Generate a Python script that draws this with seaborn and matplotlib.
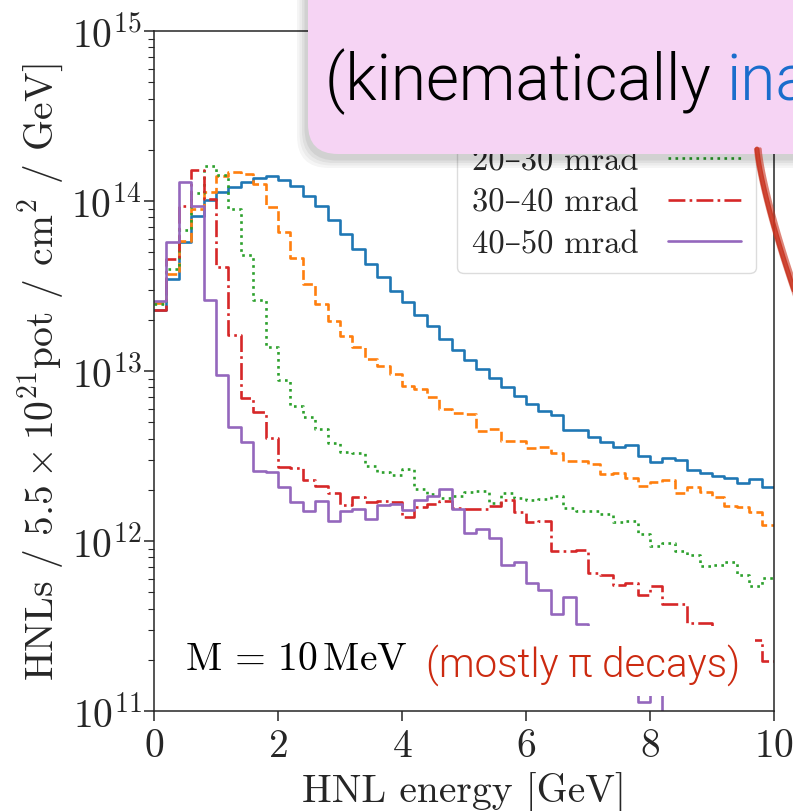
import numpy as np
import pandas as pd
import matplotlib
matplotlib.use("Agg")
import matplotlib.pyplot as plt
import seaborn as sns
from matplotlib.patches import FancyBboxPatch, Rectangle
from matplotlib.ticker import LogLocator, NullFormatter, FixedLocator

# ---- data: HNL flux per 0.2 GeV energy bin, in units of 1e12 ----
bin_edges = [round(0.2 * k, 1) for k in range(51)]

flux_0_10 = [22.9, 34.7, 57.5, 82.0, 101.9, 113.5, 120.2, 128.8, 136.1, 140.3,
             133.4, 122.5, 107.4, 92.9, 77.8, 64.0, 52.2, 42.6, 35.6, 29.7,
             25.5, 21.3, 18.5, 15.4, 13.3, 11.6, 10.3, 9.10, 8.02, 7.10,
             6.40, 5.85, 5.53, 4.52, 4.50, 4.07, 3.80, 3.56, 3.67, 3.15,
             2.93, 3.06, 3.01, 2.61, 2.51, 2.42, 2.35, 2.18, 2.32, 2.08]
flux_10_20 = [25.1, 37.2, 57.8, 89.7, 112.5, 141.0, 147.6, 144.2, 125.9, 92.3,
              65.8, 46.3, 32.4, 24.8, 19.8, 16.1, 13.8, 11.7, 10.7, 9.59,
              8.20, 7.83, 7.00, 5.97, 5.66, 5.60, 4.42, 4.56, 3.89, 3.89,
              3.52, 3.55, 3.30, 2.97, 2.97, 2.84, 2.48, 2.51, 2.34, 2.11,
              2.21, 2.28, 1.91, 2.07, 1.93, 1.81, 1.61, 1.58, 1.48, 1.24]
flux_20_30 = [24.8, 39.6, 67.9, 111.7, 160.0, 142.9, 90.2, 47.9, 26.1, 13.8,
              8.85, 6.25, 5.35, 4.56, 3.77, 3.35, 3.31, 2.77, 2.56, 2.44,
              2.65, 2.03, 1.89, 1.78, 1.84, 1.95, 1.98, 1.68, 1.91, 1.78,
              1.74, 1.77, 1.83, 1.57, 1.51, 1.51, 1.45, 1.29, 1.32, 1.10,
              0.933, 0.977, 0.871, 0.832, 0.716, 0.724, 0.755, 0.631, 0.546, 0.603]
flux_30_40 = [22.9, 45.7, 93.3, 153.0, 102.3, 40.7, 16.2, 6.92, 5.71, 4.02,
              2.74, 2.69, 2.29, 2.11, 1.91, 1.62, 1.82, 1.69, 1.71, 1.70,
              1.38, 1.58, 1.65, 1.72, 1.56, 1.55, 1.55, 1.60, 1.74, 1.49,
              1.30, 1.31, 0.877, 0.877, 0.887, 0.649, 0.634, 0.552, 0.569, 0.479,
              0.546, 0.425, 0.427, 0.331, 0.331, 0.282, 0.251, 0.229, 0.263, 0.197]
flux_40_50 = [25.7, 57.1, 128.8, 93.3, 26.3, 9.46, 4.68, 3.84, 2.59, 2.54,
              2.09, 1.70, 1.51, 1.72, 1.32, 1.51, 1.55, 1.35, 1.62, 1.66,
              1.53, 1.74, 1.83, 2.02, 1.54, 1.12, 1.18, 1.04, 0.723, 0.755,
              0.566, 0.518, 0.372, 0.467, 0.325, 0.282, 0.224, 0.251, 0.200, 0.113,
              0.224, 0.0, 0.0, 0.0, 0.0, 0.0, 0.0, 0.0, 0.0, 0.0]
flux_unit = 1e12

series_labels = ["0–10 mrad", "10–20 mrad", "20–30 mrad", "30–40 mrad", "40–50 mrad"]
series_values = [flux_0_10, flux_10_20, flux_20_30, flux_30_40, flux_40_50]
series_styles = ["-", "--", ":", "-.", "-"]

x_ticks = [0, 2, 4, 6, 8, 10]

# ---- style ----
sns.set_style("ticks")
plt.rcParams["font.family"] = ["cmr10", "DejaVu Serif"]
plt.rcParams["mathtext.fontset"] = "cm"
plt.rcParams["axes.formatter.use_mathtext"] = True
plt.rcParams["axes.unicode_minus"] = False

W, H = 793, 812
FS = 28.5
fig = plt.figure(figsize=(W / 100, H / 100), dpi=100)
ax = fig.add_axes([154 / W, 1 - 712 / H, 620 / W, 680 / H])

palette = sns.color_palette("tab10")
centers = [0.5 * (a + b) for a, b in zip(bin_edges[:-1], bin_edges[1:])]
for i, (lab, vals, ls) in enumerate(zip(series_labels, series_values, series_styles)):
    df = pd.DataFrame({"energy": centers, "flux": np.array(vals) * flux_unit})
    sns.histplot(data=df, x="energy", weights="flux", bins=bin_edges,
                 element="step", fill=False, color=palette[i], linestyle=ls,
                 linewidth=1.9, label=lab, ax=ax)

ax.set_yscale("log")
ax.set_xlim(0, 10)
ax.set_ylim(1e11, 1e15)
ax.xaxis.set_major_locator(FixedLocator(x_ticks))
ax.yaxis.set_major_locator(LogLocator(base=10, numticks=10))
ax.yaxis.set_minor_locator(LogLocator(base=10, subs=np.arange(2, 10), numticks=20))
ax.yaxis.set_minor_formatter(NullFormatter())
ax.tick_params(axis="both", which="major", labelsize=FS, length=7, width=1.1,
               direction="out")
ax.tick_params(axis="x", which="major", pad=5)
ax.tick_params(axis="y", which="major", pad=2)
ax.tick_params(axis="y", which="minor", length=4, width=0.8, direction="out")
for s in ax.spines.values():
    s.set_linewidth(1.1)
    s.set_visible(True)

ax.set_xlabel("HNL energy [GeV]", fontsize=FS, labelpad=6)
ax.set_ylabel(r"HNLs / $5.5\times10^{21}$pot / cm$^2$ / GeV]", fontsize=FS, labelpad=4)

leg = ax.legend(loc="lower right", bbox_to_anchor=(0.971, 0.644), borderaxespad=0,
                fontsize=23.5, frameon=True, fancybox=True, framealpha=0.85,
                edgecolor="#d6d6d6", markerfirst=False, handlelength=2.25,
                handletextpad=0.9, labelspacing=0.38, borderpad=0.45)

ax.text(0.05, 0.05, r"$\mathrm{M}\,=\,10\,\mathrm{MeV}$", transform=ax.transAxes,
        fontsize=FS, ha="left", va="bottom", color="black")

# white backing and annotation about the decay channel
ax.add_patch(Rectangle((0.413, 0.022), 0.556, 0.103, transform=ax.transAxes,
                       facecolor="white", edgecolor="none", zorder=5))
ax.text(0.439, 0.0515, "(mostly π decays)", transform=ax.transAxes, fontsize=29,
        family=["Roboto", "DejaVu Sans"], fontweight=300, color="#cc2a10",
        ha="left", va="baseline", zorder=6)

# callout box at the top
tr = fig.dpi_scale_trans
for k, a in enumerate([0.04, 0.04, 0.05, 0.06]):
    d = (4 - k) * 0.025
    fig.add_artist(FancyBboxPatch((3.08 - 0.01 - d, 6.57 - 0.04 - d), 6.0 + 2 * d, 3.0,
                                  boxstyle="round,pad=0,rounding_size=0.32",
                                  transform=tr, facecolor="black", edgecolor="none",
                                  alpha=a, zorder=20))
fig.add_artist(FancyBboxPatch((3.08, 6.57), 6.0, 3.0,
                              boxstyle="round,pad=0,rounding_size=0.3",
                              transform=tr, facecolor="#f6d4f4", edgecolor="none",
                              zorder=21))
t1 = fig.text(3.25 / (W / 100), 1 - 100 / H, "(kinematically ", fontsize=46,
              family=["Roboto", "DejaVu Sans"], fontweight=300, color="black",
              ha="left", va="baseline", zorder=22)
fig.canvas.draw()
bb = t1.get_window_extent()
fig.text(bb.x1 / W, 1 - 100 / H, "inaccessible)", fontsize=46,
         family=["Roboto", "DejaVu Sans"], fontweight=300, color="#1a6dcc",
         ha="left", va="baseline", zorder=22)

# hand-drawn arrow stroke on the right
ys = np.linspace(150, 300, 40)
xs = 757 + 40 * ((ys - 150) / 150) ** 1.3
for off, lw, al in [(0, 3.5, 0.9), (3, 2.5, 0.6), (-2, 1.5, 0.5)]:
    fig.add_artist(plt.Line2D((xs + off) / W, 1 - ys / H, transform=fig.transFigure,
                              color="#c8321e", lw=lw, alpha=al, zorder=23,
                              solid_capstyle="round"))

fig.savefig("out.png", dpi=100)
